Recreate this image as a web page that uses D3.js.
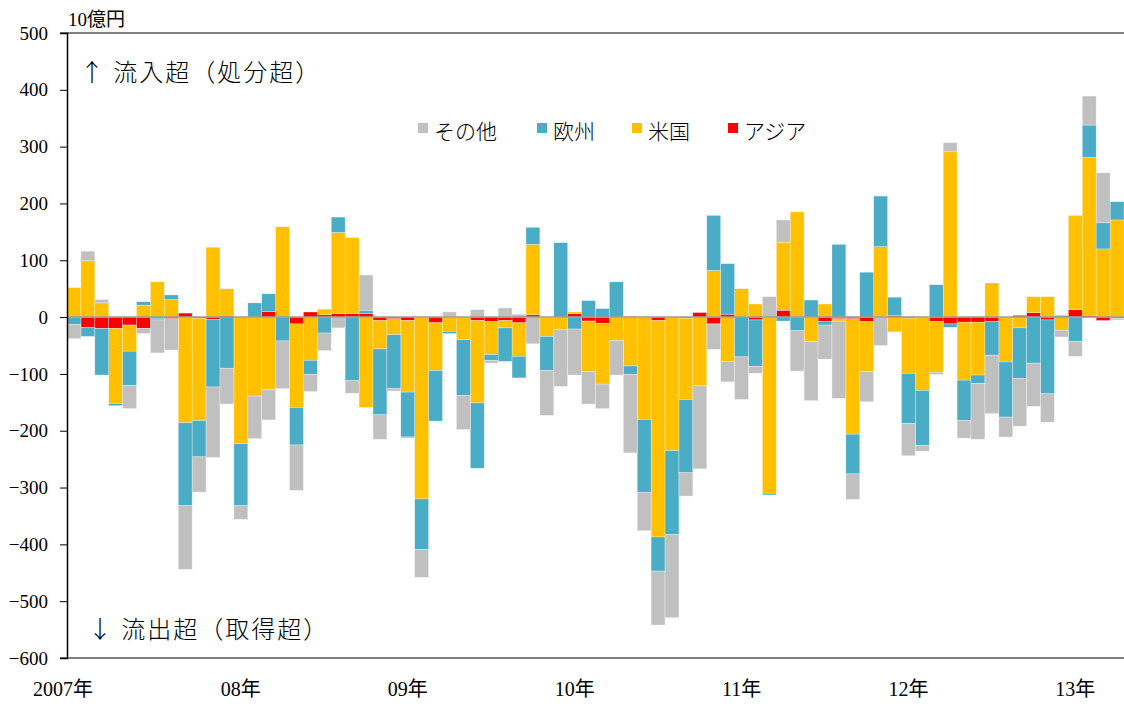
<!DOCTYPE html>
<html>
<head>
<meta charset="utf-8">
<script src="https://cdn.jsdelivr.net/npm/d3@7"></script>
<style>
  body { margin: 0; background: #fff; }
  text { font-family: "Liberation Serif", "Noto Sans CJK JP", serif; fill: #000; }
  .jp { font-family: "Noto Sans CJK JP", sans-serif; font-weight: 300; }
  .axis path, .axis line { stroke: #000; }
</style>
</head>
<body>
<div id="chart"></div>
<script>
// monthly, Jan 2007 - Apr 2013 (10億円)
var years = [2007, 2008, 2009, 2010, 2011, 2012, 2013];
var yearLabels = ["2007年", "08年", "09年", "10年", "11年", "12年", "13年"];
var lastMonth = 4; // data ends Apr 2013

var asia = [
  -1, -18, -20, -20, -14, -20, -2, -3, 7, -2, -4, 3,
  -1, 0, 10, 0, -12, 9, 4, 6, 6, 6, -6, -3,
  -6, 0, -10, 0, 0, -6, -8, -6, -10, 4, 0, 0,
  6, -7, -11, 0, 1, 0, -6, 0, -2, 8, -12, 5,
  0, -5, 0, 12, 0, 0, -8, -3, -3, -8, 0, 3,
  -2, 0, -8, -12, -9, -9, -8, 0, 3, 8, -5, 0,
  13, 3, -6, -2
];
var usa = [
  52, 99, 25, -132, -46, 21, 62, 31, -186, -180, 123, 47,
  -222, -139, -128, 159, -147, -76, 10, 143, 134, -159, -50, -28,
  -126, -320, -84, -25, -40, -145, -58, -13, -59, 124, -34, -22,
  3, -89, -107, -41, -86, -180, -381, -235, -143, -121, 82, -78,
  50, 23, -310, 120, 185, -43, 23, -4, -203, -88, 124, -26,
  -97, -129, -89, 291, -102, -93, 60, -79, -19, 28, 36, -23,
  166, 278, 120, 171
];
var europe = [
  -12, -16, -82, -4, -60, 6, -3, 8, -146, -64, -119, -90,
  -109, 25, 31, -42, -66, -25, -28, 27, -112, 6, -116, -95,
  -79, -89, -89, -4, -98, -115, -10, -59, -38, 30, -60, 131,
  -21, 29, 15, 62, -15, -129, -60, -148, -129, 0, 97, 89,
  -70, -82, -3, -7, -24, 30, -6, 128, -70, 79, 89, 32,
  -88, -97, 57, -6, -71, -15, -59, -97, -89, -81, -130, 3,
  -43, 57, 46, 32
];
var other = [
  -25, 17, 6, 0, -41, -9, -58, -55, -112, -62, -124, -63,
  -24, -75, -53, -84, -80, -30, -31, -19, -22, 62, -43, -4,
  -2, -49, 0, 9, -60, 13, -5, 16, 5, -47, -79, -100,
  -81, -57, -43, -61, -138, -67, -95, -146, -41, -146, -45, -36,
  -75, -12, 36, 39, -71, -104, -60, -136, -45, -53, -50, 0,
  -57, -10, -4, 16, -31, -98, -103, -35, -84, -76, -50, -12,
  -26, 51, 88, -3
];

var seriesKeys = ["asia", "usa", "europe", "other"];
var seriesNames = {asia: "アジア", usa: "米国", europe: "欧州", other: "その他"};
var colors = {asia: "#ff0000", usa: "#ffc000", europe: "#4bacc6", other: "#c0c0c0"};
var legendOrder = ["other", "europe", "usa", "asia"];

// build month table
var data = [];
years.forEach(function(yr) {
  for (var m = 1; m <= 12; m++) {
    if (yr === 2013 && m > lastMonth) break;
    var i = data.length;
    data.push({key: yr + "-" + m, year: yr, month: m,
      asia: asia[i], usa: usa[i], europe: europe[i], other: other[i]});
  }
});

var W = 1124, H = 706;
var margin = {top: 33, right: 0, bottom: 48, left: 67},
    width = W - margin.left - margin.right,
    height = H - margin.top - margin.bottom;

var svg = d3.select("#chart").append("svg")
    .attr("width", W)
    .attr("height", H);

var x = d3.scaleBand()
    .domain(data.map(function(d) { return d.key; }))
    .range([margin.left, margin.left + width])
    .padding(0);

var y = d3.scaleLinear()
    .domain([-600, 500])
    .range([margin.top + height, margin.top]);

var stack = d3.stack()
    .keys(seriesKeys)
    .offset(d3.stackOffsetDiverging);

var layers = stack(data);

svg.append("g")
  .selectAll("g")
  .data(layers)
  .enter().append("g")
    .attr("fill", function(d) { return colors[d.key]; })
  .selectAll("rect")
  .data(function(d) { return d; })
  .enter().append("rect")
    .attr("x", function(d) { return x(d.data.key); })
    .attr("width", x.bandwidth())
    .attr("y", function(d) { return y(Math.max(d[0], d[1])); })
    .attr("height", function(d) { return Math.abs(y(d[0]) - y(d[1])); })
    .attr("stroke", "#ffffff")
    .attr("stroke-opacity", 0.5)
    .attr("stroke-width", 0.6);

// zero line
svg.append("line")
    .attr("x1", margin.left).attr("x2", margin.left + width)
    .attr("y1", y(0)).attr("y2", y(0))
    .attr("stroke", "#a09a94")
    .attr("stroke-width", 1.5);

// frame lines top / bottom
svg.append("line")
    .attr("x1", margin.left - 7).attr("x2", W)
    .attr("y1", y(500)).attr("y2", y(500))
    .attr("stroke", "#000").attr("stroke-width", 1.2);
svg.append("line")
    .attr("x1", margin.left - 7).attr("x2", W)
    .attr("y1", y(-600)).attr("y2", y(-600))
    .attr("stroke", "#000").attr("stroke-width", 1.2);

// y axis
var yAxis = d3.axisLeft(y)
    .tickValues(d3.range(-600, 501, 100))
    .tickSize(7)
    .tickPadding(12);

var gy = svg.append("g")
    .attr("class", "axis")
    .attr("transform", "translate(" + margin.left + ",0)")
    .call(yAxis);
gy.select(".domain").attr("stroke-width", 1.5);
gy.selectAll("text").style("font-size", "19px");

// x labels at January of each year
var janKeys = years.map(function(yr) { return yr + "-1"; });
var xAxis = d3.axisBottom(x)
    .tickValues(janKeys)
    .tickSize(0)
    .tickPadding(24)
    .tickFormat(function(d, i) { return yearLabels[i]; });

var gx = svg.append("g")
    .attr("class", "axis")
    .attr("transform", "translate(0," + (margin.top + height) + ")")
    .call(xAxis);
gx.select(".domain").remove();
gx.selectAll("text").style("font-size", "20px");
gx.selectAll(".tick").filter(function(d, i) { return i === 0; })
    .select("text").attr("dx", -11);

// unit label
svg.append("text")
    .attr("x", 68)
    .attr("y", 26)
    .style("font-size", "19px")
    .text("10億円");

// annotations
svg.append("text")
    .attr("class", "jp")
    .attr("x", 80)
    .attr("y", 81)
    .style("font-size", "24px")
    .style("letter-spacing", "2px")
    .text("↑ 流入超（処分超）");

svg.append("text")
    .attr("class", "jp")
    .attr("x", 88)
    .attr("y", 638)
    .style("font-size", "24px")
    .style("letter-spacing", "2px")
    .text("↓ 流出超（取得超）");

// legend
var legendX = [418, 537, 632, 728];
var legend = svg.append("g");
legendOrder.forEach(function(k, i) {
  legend.append("rect")
      .attr("x", legendX[i])
      .attr("y", 123)
      .attr("width", 10)
      .attr("height", 10)
      .attr("fill", colors[k]);
  legend.append("text")
      .attr("class", "jp")
      .attr("x", legendX[i] + 16)
      .attr("y", 139)
      .style("font-size", "21px")
      .text(seriesNames[k]);
});
</script>
</body>
</html>
